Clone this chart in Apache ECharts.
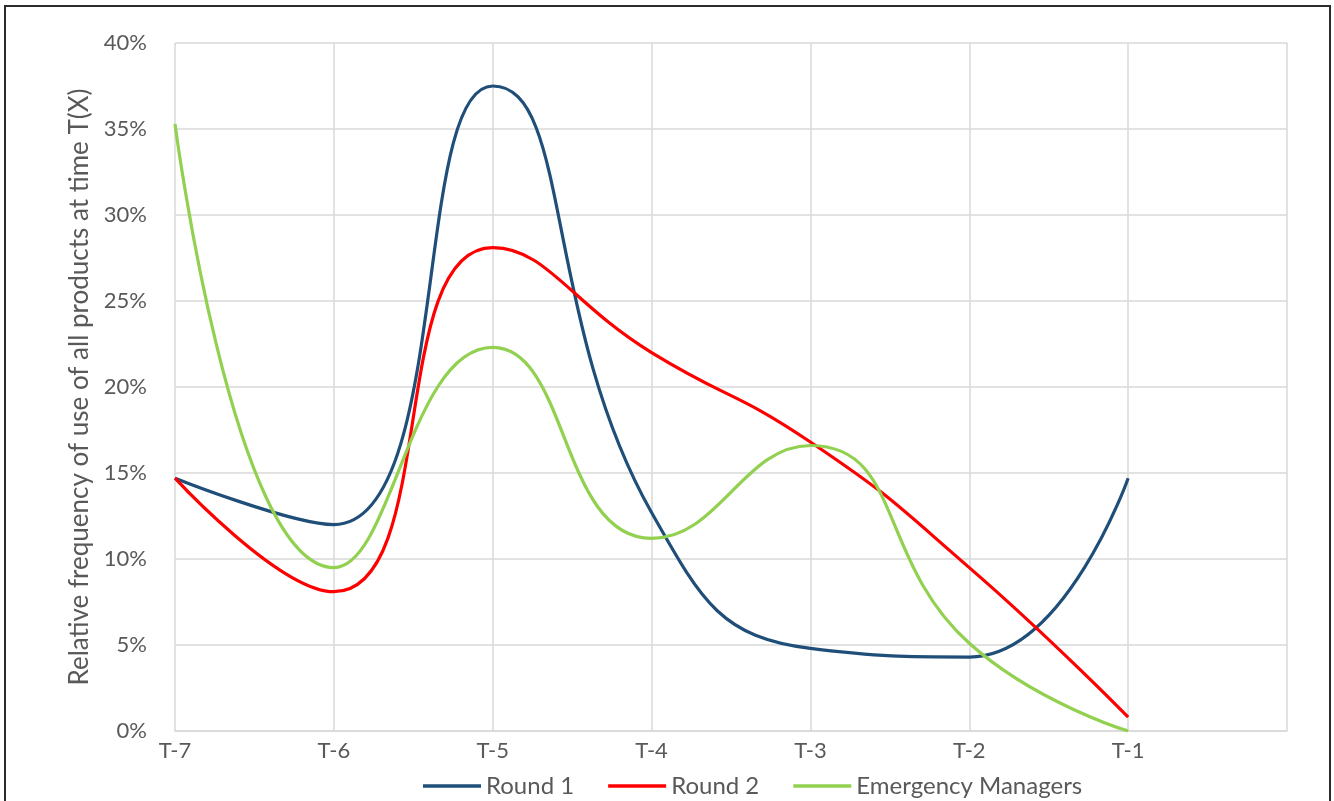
<!DOCTYPE html>
<html>
<head>
<meta charset="utf-8">
<script src="https://cdn.jsdelivr.net/npm/echarts@6/dist/echarts.min.js"></script>
<style>
  html, body { margin: 0; padding: 0; background: #fff; }
  #chart { width: 1334px; height: 801px; }
</style>
</head>
<body>
<div id="chart"></div>
<script>
// time steps (last slot is empty, the axis runs one step past T-1)
const categories = ['T-7', 'T-6', 'T-5', 'T-4', 'T-3', 'T-2', 'T-1', '']

// relative frequency, percent
const round1 = [14.7, 12.0, 37.5, 12.7, 4.8, 4.3, 14.7]
const round2 = [14.7, 8.1, 28.1, 22.0, 16.8, 9.5, 0.8]
const emergencyManagers = [35.3, 9.5, 22.3, 11.2, 16.6, 5.1, 0.0]

const yTicks = { min: 0, max: 40, interval: 5 }

const textColor = '#595959'
const gridColor = '#d9d9d9'
const font = 'Lato'

const chart = echarts.init(document.getElementById('chart'))

const makeSeries = (name, data, color) => ({
  name,
  type: 'line',
  data,
  smooth: 0.5,
  symbol: 'none',
  lineStyle: { color, width: 3.2 },
  itemStyle: { color }
})

chart.setOption({
  animation: false,
  textStyle: { fontFamily: font },
  graphic: [
    {
      type: 'rect',
      shape: { x: 5, y: 6, width: 1325, height: 820 },
      style: { fill: 'none', stroke: '#2b2b2b', lineWidth: 2 },
      silent: true
    }
  ],
  grid: { left: 175, top: 43, right: 47, bottom: 70 },
  legend: {
    top: 769,
    left: 418,
    itemWidth: 58,
    itemHeight: 3.5,
    itemGap: 34,
    icon: 'rect',
    textStyle: { color: textColor, fontSize: 24, fontFamily: font },
    data: ['Round 1', 'Round 2', 'Emergency Managers']
  },
  xAxis: {
    type: 'category',
    data: categories,
    boundaryGap: false,
    axisLine: { lineStyle: { color: gridColor, width: 1.5 } },
    axisTick: { show: false },
    axisLabel: { color: textColor, fontSize: 22, margin: 9, fontFamily: font },
    splitLine: { show: true, lineStyle: { color: gridColor, width: 1.5 } }
  },
  yAxis: {
    type: 'value',
    min: yTicks.min,
    max: yTicks.max,
    interval: yTicks.interval,
    name: 'Relative frequency of use of all products at time T(X)',
    nameLocation: 'middle',
    nameGap: 80,
    nameTextStyle: { color: textColor, fontSize: 26, fontFamily: font },
    axisLine: { show: false },
    axisTick: { show: false },
    axisLabel: { color: textColor, fontSize: 22, margin: 28, formatter: '{value}%', fontFamily: font },
    splitLine: { lineStyle: { color: gridColor, width: 1.5 } }
  },
  series: [
    makeSeries('Round 1', round1, '#1f4e79'),
    makeSeries('Round 2', round2, '#ff0000'),
    makeSeries('Emergency Managers', emergencyManagers, '#92d050')
  ]
})
</script>
</body>
</html>
